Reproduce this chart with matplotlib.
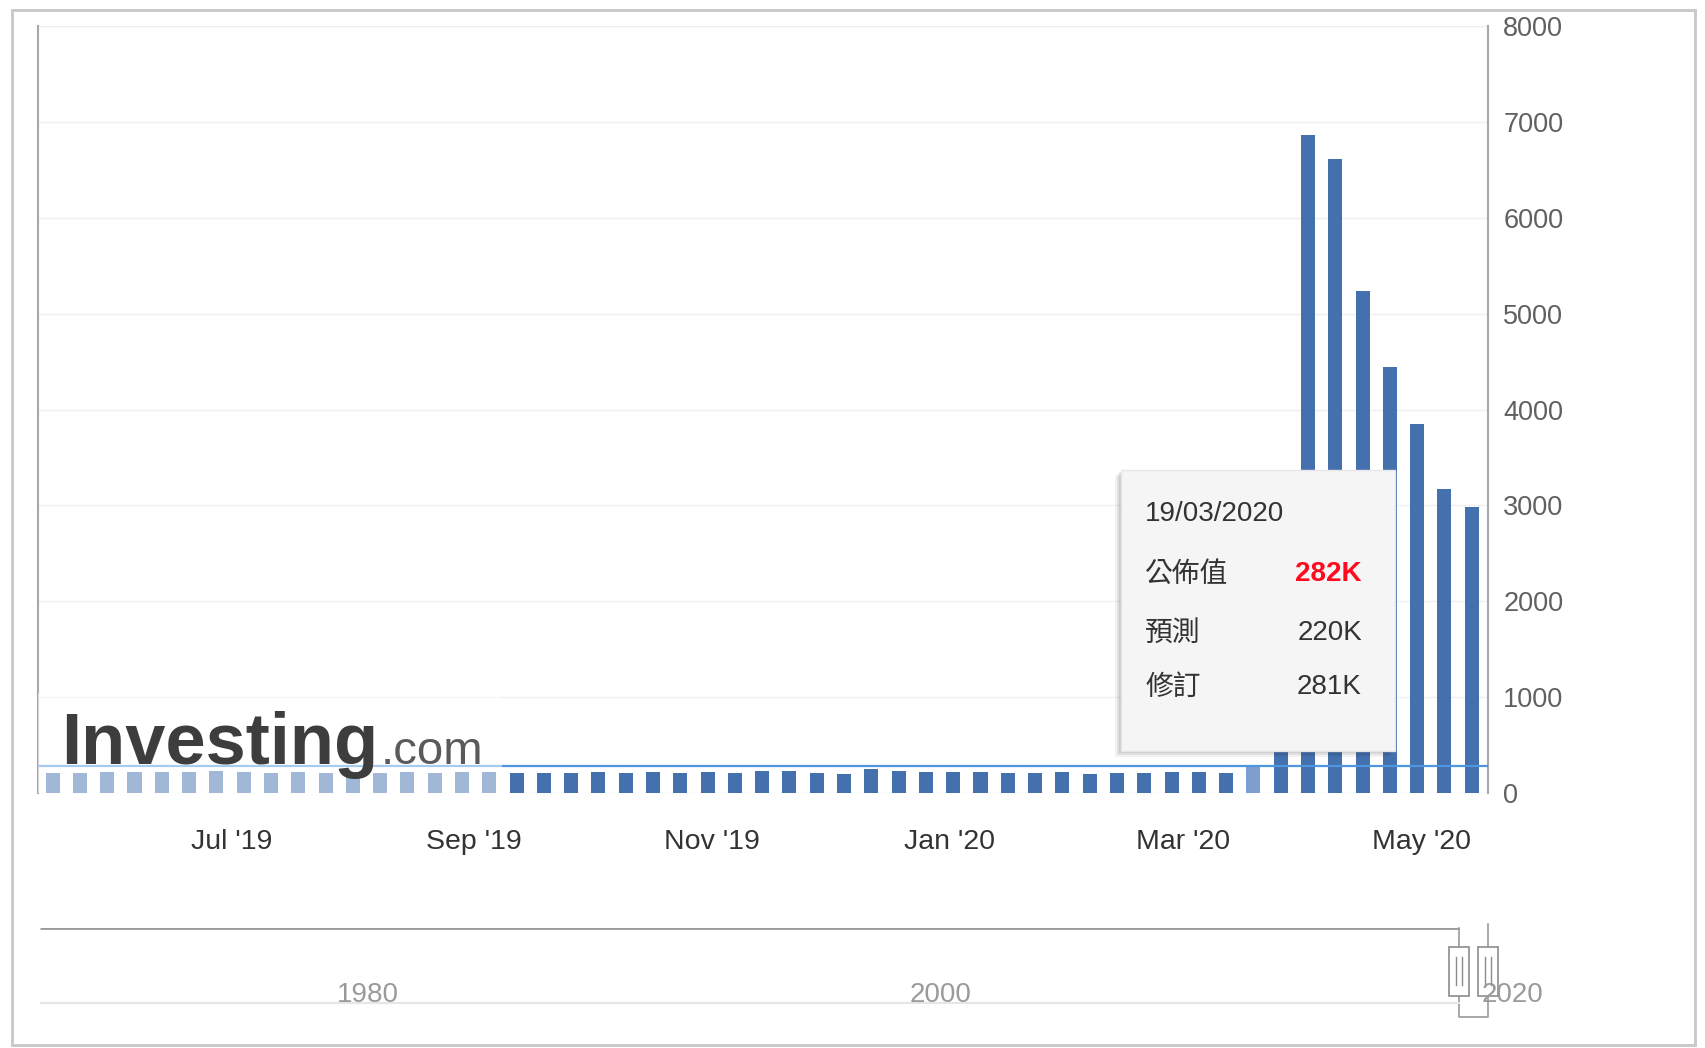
import matplotlib
matplotlib.use("Agg")
import matplotlib.pyplot as plt
import matplotlib.dates as mdates
import matplotlib.transforms as mtransforms
from matplotlib.patches import Rectangle
import pandas as pd

plt.rcParams["font.family"] = ["Liberation Sans", "Noto Sans CJK TC", "DejaVu Sans"]

W, H = 1706, 1048

# weekly initial jobless claims (thousands), as drawn: 16/05/2019 .. 14/05/2020
week_start = "2019-05-16"
claims_k = [212, 211, 215, 218, 222, 216, 227, 221, 209, 216,
            206, 215, 209, 220, 209, 215, 217, 204, 208, 213,
            219, 210, 214, 212, 218, 211, 225, 227, 213, 203,
            252, 234, 222, 222, 214, 204, 211, 216, 202, 205,
            210, 219, 216, 211, 282, 3307, 6867, 6615, 5237, 4442,
            3846, 3176, 2981]
dates = pd.date_range(week_start, periods=len(claims_k), freq="7D")

y_ticks = [0, 1000, 2000, 3000, 4000, 5000, 6000, 7000, 8000]
x_view = ("2019-05-12 06:00", "2020-05-18 04:00")
nav_years = [1980, 2000, 2020]
nav_span = (1969.75, 2020.45)

# tooltip for the hovered week
hover_date = "2020-03-19"
tip_title = "19/03/2020"
tip_labels = ["公佈值", "預測", "修訂"]
tip_values = ["282K", "220K", "281K"]
tip_actual = 282

BAR = "#4470ad"
BAR_HOVER = "#7d9fd0"


def fx(px):
    return px / W


def fy(py):
    return 1 - py / H


def dec_year(ts):
    ts = pd.Timestamp(ts)
    return ts.year + (ts.dayofyear - 1) / (366 if ts.is_leap_year else 365)


fig = plt.figure(figsize=(W / 100, H / 100), dpi=100)
fig.patch.set_facecolor("white")

# ---- main chart
ax = fig.add_axes([fx(38), fy(793), (1488 - 38) / W, (793 - 26) / H])
colors = [BAR_HOVER if d == pd.Timestamp(hover_date) else BAR for d in dates]
ax.bar(dates, claims_k, width=3.6, color=colors, zorder=2)
ax.axhline(tip_actual, color="#4f95e0", lw=1.6, zorder=3)

ax.set_xlim(pd.Timestamp(x_view[0]), pd.Timestamp(x_view[1]))
ax.set_ylim(0, 8000)
ax.set_yticks(y_ticks)
ax.yaxis.tick_right()
ax.tick_params(axis="y", length=0, pad=11, labelsize=19.5, labelcolor="#606060")
ax.xaxis.set_major_locator(mdates.MonthLocator(bymonth=[1, 3, 5, 7, 9, 11]))
ax.xaxis.set_major_formatter(mdates.DateFormatter("%b '%y"))
ax.tick_params(axis="x", length=0, pad=26, labelsize=20.5, labelcolor="#333333")
ax.grid(axis="y", color="#efefef", lw=1, zorder=0)
ax.set_axisbelow(True)
for side in ("top", "bottom"):
    ax.spines[side].set_visible(False)
for side in ("left", "right"):
    ax.spines[side].set_color("#a8a8a8")
    ax.spines[side].set_linewidth(1.5)

# white wash behind the logo (fades the early bars)
ax.add_patch(Rectangle((0, 0), 0.32, 0.13, transform=ax.transAxes,
                       fc="white", ec="none", alpha=0.5, zorder=4))
fig.text(fx(61), fy(764), "Investing", fontsize=52, fontweight="bold",
         color="#3d3d3d", va="baseline", zorder=5)
fig.text(fx(381), fy(764), ".com", fontsize=34, color="#5a5a5a",
         va="baseline", zorder=5)

# ---- tooltip
x0, y0, x1, y1 = 1121, 470, 1395, 751
for k, a in enumerate([0.05, 0.07, 0.09]):
    off = 6 - 2 * k
    fig.add_artist(Rectangle((fx(x0 - off), fy(y1 + off)), (x1 - x0) / W, (y1 - y0) / H,
                             transform=fig.transFigure, fc="black", ec="none",
                             alpha=a, zorder=4))
fig.add_artist(Rectangle((fx(x0), fy(y1)), (x1 - x0) / W, (y1 - y0) / H,
                         transform=fig.transFigure, fc="#f5f5f5", ec="#e6e6e6",
                         lw=1, zorder=5))
fig.text(fx(1145), fy(514), tip_title, fontsize=20, color="#333333",
         va="center", zorder=6)
for i, (lab, val) in enumerate(zip(tip_labels, tip_values)):
    yy = [574, 633, 687][i]
    fig.text(fx(1145), fy(yy), lab, fontsize=20, color="#333333", va="center",
             fontweight="medium", family=["Noto Sans CJK TC", "DejaVu Sans"], zorder=6)
    fig.text(fx(1362), fy(yy), val, fontsize=20, va="center", ha="right",
             color="#ff0a1e" if i == 0 else "#333333",
             fontweight="bold" if i == 0 else "normal", zorder=6)

# ---- navigator
nav = fig.add_axes([fx(40), fy(1017), (1490 - 40) / W, (1017 - 928) / H])
nav.set_xlim(*nav_span)
nav.set_ylim(0, 1)
nav.axis("off")
lo, hi = dec_year(x_view[0]), dec_year(x_view[1])
oc = "#9a9a9a"
nav.plot([nav_span[0], lo], [1, 1], color=oc, lw=2, solid_capstyle="butt")
nav.plot([lo, lo, hi, hi], [1, 0, 0, 1.04], color=oc, lw=1.2, clip_on=False)
nav.plot([nav_span[0], lo], [0.16, 0.16], color="#e6e6e6", lw=1.5)
hw = 0.35
for hx in (lo, hi):
    nav.add_patch(Rectangle((hx - hw, 0.24), 2 * hw, 0.55, fc="white",
                            ec="#8c8c8c", lw=1.2, zorder=3, clip_on=False))
    for dx in (-0.1, 0.1):
        nav.plot([hx + dx, hx + dx], [0.36, 0.67], color="#8c8c8c", lw=1,
                 zorder=4, clip_on=False)
lab_shift = mtransforms.ScaledTranslation(4 / 100, 0, fig.dpi_scale_trans)
for yr in nav_years:
    nav.text(yr, 0.25, str(yr), fontsize=20, color="#9a9a9a", ha="left",
             va="center", zorder=6, clip_on=False,
             transform=nav.transData + lab_shift)

# ---- outer frame
fig.add_artist(Rectangle((fx(12), fy(1045)), (1695 - 12) / W, (1045 - 10) / H,
                         transform=fig.transFigure, fill=False, ec="#c8c8c8",
                         lw=2, zorder=0))

fig.savefig("out.png", dpi=100)
